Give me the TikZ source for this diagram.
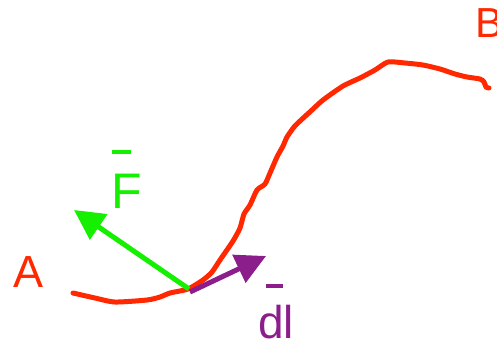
\documentclass[tikz,border=0pt]{standalone}
\usepackage{fontspec}
\setmainfont{Liberation Sans}
\usetikzlibrary{arrows.meta}
\definecolor{cred}{RGB}{255,40,0}
\definecolor{cgreen}{RGB}{20,240,0}
\definecolor{cpurple}{RGB}{140,30,140}
\begin{document}
\begin{tikzpicture}[x=1pt,y=-1pt,
  lbl/.style={inner sep=0pt,anchor=base west},
  vec/.style={line width=5pt,-{Triangle[length=30pt,width=30pt]}},
  barline/.style={line width=4pt}]
\useasboundingbox (0,0) rectangle (497,341);
% curve
\draw[cred,line width=5pt,line join=round,line cap=round] plot[smooth,tension=0.4] coordinates {
(73,293) (95,298) (115,302) (147,300) (160,297) (170,293) (188,289) (203,280) (212,272) (220,260) (233,241) (240,228) (244,214) (250,205) (257,190) (265,184) (270,173) (277,157) (283,146) (287,137) (294,127) (300,121) (312,110) (323,100) (343,86) (360,78) (375,70) (388,62) (405,63) (423,65) (440,69) (455,74) (467,77) (480,79) (484,82) (486,87) (489,88)};
\coordinate (P) at (189,289);
\coordinate (Q) at (190,292);
\coordinate (Ftip) at (74,210);
\coordinate (dtip) at (266,256);
\draw[vec,cgreen] (P) -- (Ftip);
\draw[vec,cpurple] (Q) -- (dtip);
% labels
\node[lbl,text=cred,font=\fontsize{45}{45}\selectfont] (A) at (13,287) {A};
\node[lbl,text=cred,font=\fontsize{42}{42}\selectfont] (B) at (475,37) {B};
\node[lbl,text=cgreen,font=\fontsize{50}{50}\selectfont] (F) at (111,208) {F};
\node[lbl,text=cpurple,font=\fontsize{46}{46}\selectfont] (dl) at (258,338) {dl};
\draw[barline,cgreen] (112,152) -- (131,152);
\draw[barline,cpurple] (266,286) -- (283,286);
\end{tikzpicture}
\end{document}
